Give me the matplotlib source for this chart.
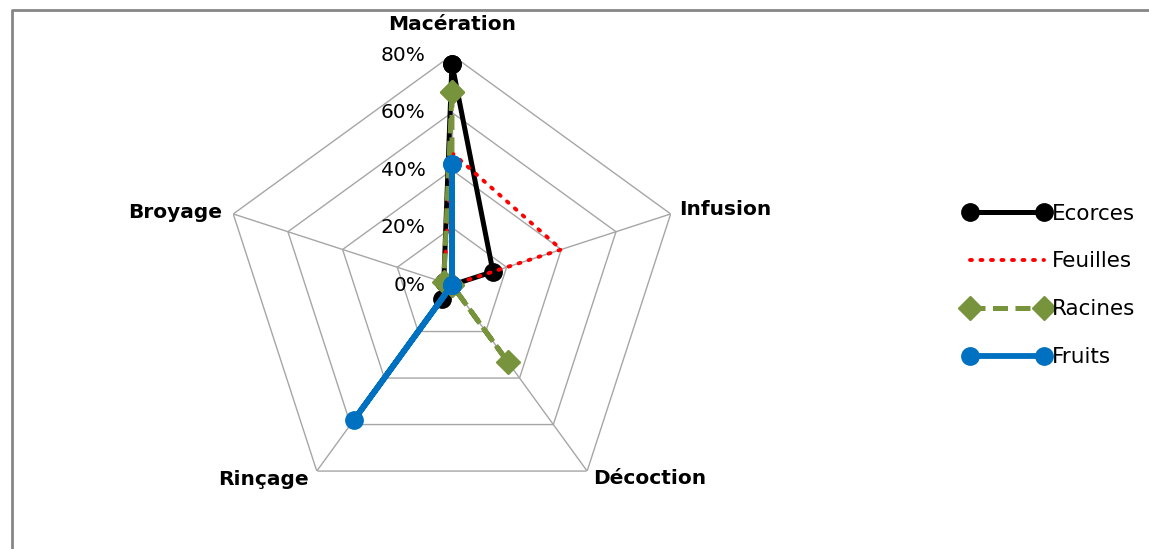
import numpy as np
import matplotlib
matplotlib.use("Agg")
import matplotlib.pyplot as plt
from matplotlib.lines import Line2D

# axes of the radar, clockwise from the top
categories = ["Macération", "Infusion", "Décoction", "Rinçage", "Broyage"]
ticks = [0, 20, 40, 60, 80]
tick_labels = ["0%", "20%", "40%", "60%", "80%"]

# percentages
ecorces = [77, 15, 0, 6, 3]
feuilles = [46, 40, 0, 2, 3]
racines = [67, 0, 33, 0, 3]
fruits = [42, 0, 0, 58, 0]

fig = plt.figure(figsize=(11.49, 5.49), dpi=100)
ax = fig.add_axes([0.1932, 0.0619, 0.4003, 0.8379], projection="polar")
ax.set_theta_offset(np.pi / 2)
ax.set_theta_direction(-1)
ax.set_ylim(0, 80)
ax.grid(False)
ax.spines["polar"].set_visible(False)
ax.set_xticks([])
ax.set_yticks([])
ax.patch.set_alpha(0)

theta = np.linspace(0, 2 * np.pi, len(categories), endpoint=False)
theta_closed = np.append(theta, theta[0])

def closed(vals):
    return np.append(vals, vals[0])

# pentagon grid + spokes
grid_col = "#a6a6a6"
for t in ticks[1:]:
    ax.plot(theta_closed, [t] * len(theta_closed), color=grid_col, lw=1, zorder=1)
for th in theta:
    ax.plot([th, th], [0, 80], color=grid_col, lw=1, zorder=1)

# radial tick labels left of the vertical axis
for t, lab in zip(ticks, tick_labels):
    ax.annotate(lab, xy=(0, t), xytext=(-19, 0), textcoords="offset points",
                ha="right", va="center", fontsize=14.5, color="black")

# category labels
label_offsets = [(0, 15, "center", "bottom"), (6, 3, "left", "center"),
                 (4, -5, "left", "center"), (-6, -6, "right", "center"),
                 (-8, 1, "right", "center")]
for th, name, (dx, dy, ha, va) in zip(theta, categories, label_offsets):
    ax.annotate(name, xy=(th, 80), xytext=(dx, dy), textcoords="offset points",
                ha=ha, va=va, fontsize=14.5, fontweight="bold", color="black")

ax.plot(theta_closed, closed(ecorces), color="black", lw=3.6, marker="o",
        markersize=12.5, label="Ecorces", zorder=3)
ax.plot(theta_closed, closed(feuilles), color="#ff0000", lw=2.8,
        linestyle=(0, (0.5, 2.2)), dash_capstyle="round", label="Feuilles", zorder=4)
ax.plot(theta_closed, closed(racines), color="#77933c", lw=3.6, linestyle=(0, (3, 1.5)),
        marker="D", markersize=12, label="Racines", zorder=5)
ax.plot(theta_closed, closed(fruits), color="#0070c0", lw=4.2, marker="o",
        markersize=12.5, label="Fruits", zorder=6)

handles, labels = ax.get_legend_handles_labels()
fig.legend(handles, labels, loc="center left", bbox_to_anchor=(0.822, 0.48),
           frameon=False, numpoints=2, handlelength=4.0, handletextpad=0.1,
           labelspacing=1.3, fontsize=15.5)

# chart-area frame (top and left edges visible)
fig.add_artist(Line2D([0.0105, 0.0105, 1.0], [0.0, 0.982, 0.982],
                      transform=fig.transFigure, color="#868686", lw=2))

fig.savefig("out.png", dpi=100)
